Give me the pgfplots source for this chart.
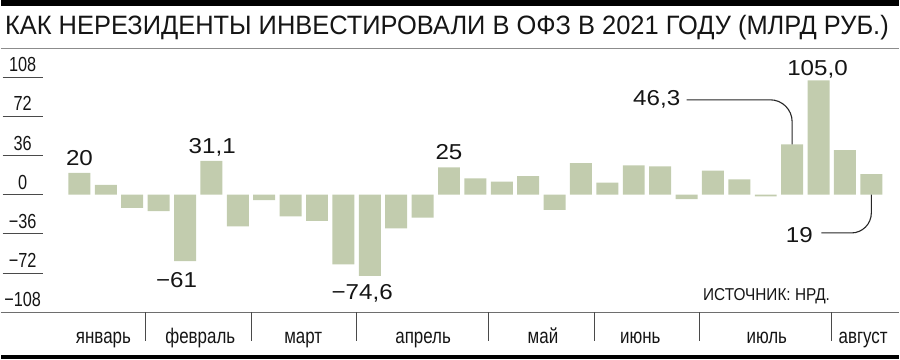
\documentclass[border=0pt]{standalone}
\usepackage{pgfplots}
\pgfplotsset{compat=1.18}
\usepackage{graphicx}
\usepackage{fontspec}
\setmainfont{Liberation Sans}
\newfontfamily\condfont[FakeStretch=0.80]{Liberation Sans}
\newfontfamily\widefont[FakeStretch=1.12]{Liberation Sans}
\definecolor{barcol}{HTML}{C2CCAE}
\definecolor{tickgray}{HTML}{4A4A4A}
\definecolor{rulegray}{HTML}{8C8C8C}
\definecolor{basegray}{HTML}{6E6E6E}
\definecolor{txt}{HTML}{151515}

\pgfplotstableread{
idx val
1 20
2 9
3 -12
4 -15
5 -61
6 31.1
7 -29
8 -5
9 -20
10 -24
11 -64
12 -74.6
13 -31
14 -21
15 25
16 15
17 12
18 17
19 -14
20 29
21 11
22 27
23 26
24 -4
25 22
26 14
27 -1.5
28 46.3
29 105
30 41
31 19
}\weekly

\tikzset{
  tl/.style={anchor=base, inner sep=0pt, text=txt, font=\condfont\fontsize{10.2pt}{10.2pt}\selectfont},
  ml/.style={anchor=base, inner sep=0pt, text=txt, font=\condfont\fontsize{10.6pt}{10.6pt}\selectfont},
  vl/.style={anchor=center, inner sep=0pt, text=txt, font=\widefont\fontsize{10.8pt}{10.8pt}\selectfont},
  tk/.style={tickgray, line width=0.5pt},
}

\begin{document}
\begin{tikzpicture}
\begin{axis}[
  scale only axis, width=450pt, height=180pt,
  xmin=-1.983, xmax=32.06, ymin=-151.2, ymax=178.7,
  axis lines=none, clip=false,
  ybar, bar width=0.832, bar shift=0pt,
]
\path (rel axis cs:0,0) rectangle (rel axis cs:1,1);
% top and bottom thick rules
\fill[black] (rel axis cs:0,1) rectangle ([yshift=-3pt]rel axis cs:1,1);
\fill[black] (rel axis cs:0,0) rectangle ([yshift=2pt]rel axis cs:1,0);
% rule under title
\draw[rulegray, line width=0.6pt] (rel axis cs:0,0.8655) -- (rel axis cs:1,0.8655);
% baseline
\draw[basegray, line width=0.7pt] (axis cs:-1.983,-108) -- (axis cs:32.06,-108);

\addplot[fill=barcol, draw=none] table[x=idx, y=val] {\weekly};

% y ticks
\draw[tk] (axis cs:-1.909,108) -- (axis cs:-0.394,108);
\draw[tk] (axis cs:-1.909,72) -- (axis cs:-0.394,72);
\draw[tk] (axis cs:-1.909,36) -- (axis cs:-0.394,36);
\draw[tk] (axis cs:-1.909,0) -- (axis cs:-0.394,0);
\draw[tk] (axis cs:-1.909,-36) -- (axis cs:-0.394,-36);
\draw[tk] (axis cs:-1.909,-72) -- (axis cs:-0.394,-72);
\node[tl] at ([yshift=2.7pt]axis cs:-1.151,108) {108};
\node[tl] at ([yshift=2.7pt]axis cs:-1.151,72) {72};
\node[tl] at ([yshift=2.7pt]axis cs:-1.151,36) {36};
\node[tl] at ([yshift=2.7pt]axis cs:-1.151,0) {0};
\node[tl] at ([yshift=2.7pt]axis cs:-1.151,-36) {−36};
\node[tl] at ([yshift=2.7pt]axis cs:-1.151,-72) {−72};
\node[tl] at ([yshift=2.7pt]axis cs:-1.151,-108) {−108};

% month separators
\draw[tk] (axis cs:3.5,-108) -- (axis cs:3.5,-134.7);
\draw[tk] (axis cs:7.5,-108) -- (axis cs:7.5,-134.7);
\draw[tk] (axis cs:11.5,-108) -- (axis cs:11.5,-134.7);
\draw[tk] (axis cs:16.5,-108) -- (axis cs:16.5,-134.7);
\draw[tk] (axis cs:20.5,-108) -- (axis cs:20.5,-134.7);
\draw[tk] (axis cs:24.5,-108) -- (axis cs:24.5,-134.7);
\draw[tk] (axis cs:29.5,-108) -- (axis cs:29.5,-134.7);
\node[ml] at (axis cs:1.91,-136.6) {январь};
\node[ml] at (axis cs:5.58,-136.6) {февраль};
\node[ml] at (axis cs:9.48,-136.6) {март};
\node[ml] at (axis cs:14.02,-136.6) {апрель};
\node[ml] at (axis cs:18.56,-136.6) {май};
\node[ml] at (axis cs:22.25,-136.6) {июнь};
\node[ml] at (axis cs:27.04,-136.6) {июль};
\node[ml] at (axis cs:30.69,-136.6) {август};

% title
\node[anchor=base west, inner sep=0pt, text=txt, font=\fontsize{13.3pt}{13.3pt}\selectfont]
  at (axis cs:-1.832,146.65) {\resizebox{442.5pt}{\height}{КАК НЕРЕЗИДЕНТЫ ИНВЕСТИРОВАЛИ В ОФЗ В 2021 ГОДУ (МЛРД РУБ.)}};

% source
\node[anchor=base west, inner sep=0pt, text=txt, font=\fontsize{8.6pt}{8.6pt}\selectfont]
  at (axis cs:24.615,-96.9) {\resizebox{63.5pt}{\height}{ИСТОЧНИК: НРД.}};

% value labels
\node[vl] at (axis cs:1,33.9) {20};
\node[vl] at (axis cs:6.03,43.1) {31,1};
\node[vl] at (axis cs:4.68,-78.8) {−61};
\node[vl] at (axis cs:11.71,-90.7) {−74,6};
\node[vl] at (axis cs:15.0,39.4) {25};
\node[vl] at (axis cs:28.96,115.0) {105,0};
\node[vl] at (axis cs:22.87,87.1) {46,3};
\node[vl] at (axis cs:28.27,-36.7) {19};

% leader lines
\draw[black!85, line width=0.55pt, rounded corners=11pt]
  (axis cs:24.0,87.1) -- (axis cs:28,87.1) -- (axis cs:28,46.3);
\draw[black!85, line width=0.55pt, rounded corners=10pt]
  (axis cs:31,0) -- (axis cs:31,-35.1) -- (axis cs:29.11,-35.1);
\end{axis}
\end{tikzpicture}
\end{document}
